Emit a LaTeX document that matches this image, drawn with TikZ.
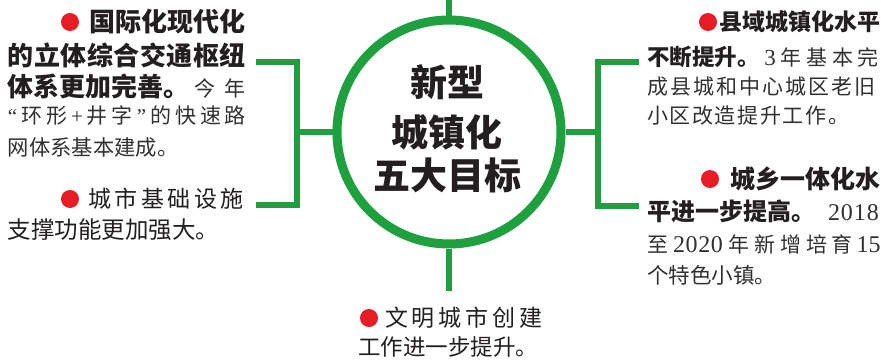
\documentclass[tikz,border=0pt]{standalone}
\usepackage{fontspec}
\setmainfont{Noto Sans CJK SC}
\newfontfamily\dig{Liberation Serif}
\definecolor{ringgreen}{RGB}{30,160,62}
\definecolor{dotred}{RGB}{232,28,36}
\definecolor{ink}{RGB}{35,31,32}
\definecolor{bodyink}{RGB}{50,48,48}
\newcommand\fs[1]{\fontsize{#1pt}{#1pt}\selectfont}
\makeatletter
\def\spr#1{\spr@a#1\@nil}
\def\spr@a#1#2\@nil{{#1}\ifx\relax#2\relax\else\hfill\spr@a#2\@nil\fi}
\makeatother
\begin{document}
\begin{tikzpicture}[x=1pt,y=-1pt,
  lab/.style={inner sep=0pt, outer sep=0pt, text=ink},
  conn/.style={draw=ringgreen, line width=6.5pt},
  reddot/.style={circle, fill=dotred, inner sep=0pt, minimum size=18pt},
  hubtext/.style={lab, font=\fs{37}\bfseries}
]
\useasboundingbox[fill=white] (0,0) rectangle (881,364);

% hub
\node[circle, draw=ringgreen, line width=9pt, fill=white, minimum size=224pt, inner sep=0pt] (hub) at (449,132) {};
\node[hubtext] (t1) at (447,82) {新型};
\node[hubtext] (t2) at (447,132) {城镇化};
\node[hubtext] (t3) at (447,175) {五大目标};

% connector coordinates
\coordinate (top) at (449,-2);
\coordinate (bot) at (449,291);
\coordinate (lm) at (297,132);
\coordinate (lt0) at (256,62);
\coordinate (lt1) at (297,62);
\coordinate (lb1) at (297,205);
\coordinate (lb0) at (256,205);
\coordinate (rm) at (598,132);
\coordinate (rt0) at (639,62);
\coordinate (rt1) at (598,62);
\coordinate (rb1) at (598,206);
\coordinate (rb0) at (639,206);

\draw[conn] (hub.north) -- (top);
\draw[conn] (hub.south) -- (bot);
\draw[conn] (hub.west) -- (lm);
\draw[conn] (lt0) -- (lt1) -- (lb1) -- (lb0);
\draw[conn] (hub.east) -- (rm);
\draw[conn] (rt0) -- (rt1) -- (rb1) -- (rb0);

% left block 1
\node[reddot] (d1) at (70,22) {};
\node[lab, anchor=east, font=\fs{26}\bfseries] (a1) at (245,22) {国际化现代化};
\node[lab, anchor=west, font=\fs{26}\bfseries] (a2) at (8,55) {\makebox[238pt]{\spr{的立体综合交通枢纽}}};
\node[lab, anchor=west] (a3) at (8,86) {\makebox[238pt]{{\fs{26}\bfseries 体系更加完善。}\hfill{\fs{21}\color{bodyink}今\hspace{9pt}年}}};
\node[lab, anchor=west, text=bodyink, font=\fs{21}] (a4) at (8,116) {\makebox[238pt]{\spr{{\dig “}环形{\dig +}井字{\dig ”}的快速路}}};
\node[lab, anchor=west, text=bodyink, font=\fs{21.3}] (a5) at (8,147) {网体系基本建成。};

% left block 2
\node[reddot] (d2) at (70,199) {};
\node[lab, anchor=east, font=\fs{23}] (b1) at (244,199) {\makebox[156pt]{\spr{城市基础设施}}};
\node[lab, anchor=west, font=\fs{23.5}] (b2) at (8,230) {支撑功能更加强大。};

% right block 1
\node[reddot] (d3) at (708,22) {};
\node[lab, anchor=east, font=\fs{23}\bfseries] (c1) at (880,22) {县域城镇化水平};
\node[lab, anchor=west] (c2) at (647,57) {\makebox[232pt]{{\fs{22.5}\bfseries 不断提升。}\hfill{\fs{21}\color{bodyink}\spr{{\fs{23}\dig 3}年基本完}}}};
\node[lab, anchor=west, text=bodyink, font=\fs{21}] (c3) at (647,87) {\makebox[229pt]{\spr{成县城和中心城区老旧}}};
\node[lab, anchor=west, text=bodyink, font=\fs{21}] (c4) at (647,116) {\makebox[202pt]{\spr{小区改造提升工作。}}};

% right block 2
\node[reddot] (d4) at (710,179) {};
\node[lab, anchor=east, font=\fs{25}\bfseries] (e1) at (880,179) {城乡一体化水};
\node[lab, anchor=west] (e2) at (647,211) {\makebox[232pt]{{\fs{24}\bfseries 平进一步提高。}\hfill{\fs{24}\color{bodyink}\dig\makebox[51pt]{\spr{2018}}}}};
\node[lab, anchor=west, text=bodyink, font=\fs{21}] (e3) at (647,244) {\makebox[232pt]{至\hfill{\fs{24}\dig\makebox[50pt]{\spr{2020}}}\hfill 年\hfill 新\hfill 增\hfill 培\hfill 育\hfill{\fs{24}\dig\makebox[21pt]{\spr{15}}}}};
\node[lab, anchor=west, text=bodyink, font=\fs{21.5}] (e4) at (647,275) {个特色小镇。};

% bottom block
\node[reddot] (d5) at (369,318) {};
\node[lab, anchor=west, font=\fs{23}] (f1) at (385,318) {\makebox[158pt]{\spr{文明城市创建}}};
\node[lab, anchor=west, font=\fs{22.5}] (f2) at (358,347) {工作进一步提升。};
\end{tikzpicture}
\end{document}
